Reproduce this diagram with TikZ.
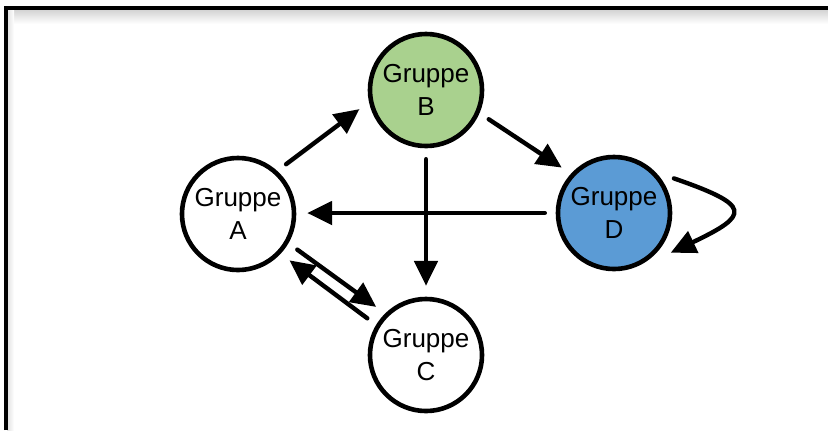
\documentclass[tikz,border=0pt]{standalone}
\usepackage{fontspec}
\setmainfont{Liberation Sans}
\usepackage{tikz}
\usetikzlibrary{arrows.meta,shapes,positioning}
\definecolor{gruen}{HTML}{A9D18E}
\definecolor{blau}{HTML}{5B9BD5}
\tikzstyle{arrow} = [line width=0.11cm,line cap=round,-{Triangle[length=0.625cm,width=0.58cm]}]

\begin{document}
\begin{tikzpicture}[
  x=0.025cm, y=-0.025cm,
  gruppe/.style={circle,draw,line width=0.115cm,minimum size=2.8cm,inner sep=0pt,
    outer sep=0.33cm,align=center,font=\fontsize{18.5}{24}\selectfont}
]
\useasboundingbox (0,0) rectangle (828,430);
% Rahmen
\shade[top color=black!18,bottom color=white] (7,9) rectangle (828,24);
\shade[left color=black!12,right color=white] (7,9) rectangle (14,430);
\draw[line width=2.5pt] (6,430) -- (6,8) -- (828,8);

% Gruppen
\node[gruppe]           (A) at (238,214) {Gruppe\\A};
\node[gruppe,fill=gruen] (B) at (426,90)  {Gruppe\\B};
\node[gruppe]           (C) at (426,355) {Gruppe\\C};
\node[gruppe,fill=blau] (D) at (614,213) {Gruppe\\D};

\draw[arrow] (A.46) -- (B.196);
\draw[arrow] (B.-25) -- (D.139);
\draw[arrow] (B.south) -- (C.north);
\draw[arrow] (D.west) -- (D.west -| A.east);
\draw[arrow] (A.-31) -- (C.136);
\draw[arrow] (C.148) -- (A.-42);
\draw[arrow] (D.30) .. controls +(78,27) and +(80,-38) .. (D.-35);
\end{tikzpicture}
\end{document}
